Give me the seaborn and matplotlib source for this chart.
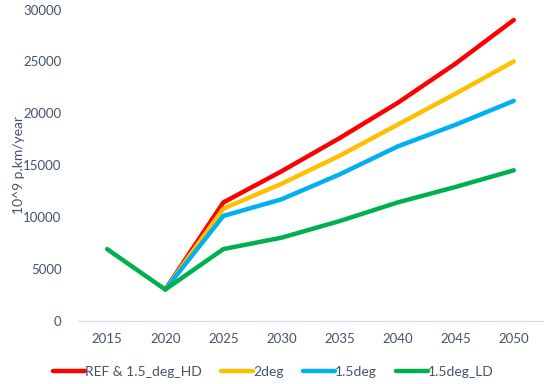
import numpy as np
import pandas as pd
import seaborn as sns
import matplotlib.pyplot as plt

years = [2015, 2020, 2025, 2030, 2035, 2040, 2045, 2050]
ref_hd = [np.nan, 3000, 11400, 14400, 17600, 21000, 24800, 29000]
deg2 = [np.nan, 3000, 10800, 13200, 15900, 18900, 21900, 25000]
deg15 = [np.nan, 3000, 10100, 11700, 14100, 16800, 18900, 21200]
deg15_ld = [6900, 3000, 6900, 8000, 9600, 11400, 12900, 14500]

series_names = ["REF & 1.5_deg_HD", "2deg", "1.5deg", "1.5deg_LD"]
colors = ["#FF0000", "#FFC000", "#00B0F0", "#00B050"]

rows = []
for name, vals in zip(series_names, [ref_hd, deg2, deg15, deg15_ld]):
    for y, v in zip(years, vals):
        rows.append({"year": y, "value": v, "scenario": name})
df = pd.DataFrame(rows).dropna()

sns.set_style("white")
plt.rcParams["font.family"] = ["Lato", "DejaVu Sans"]
text_col = "#44546A"

fig = plt.figure(figsize=(5.5, 3.84), dpi=100)
ax = fig.add_axes([0.142, 0.165, 0.845, 0.81])

sns.lineplot(data=df, x="year", y="value", hue="scenario", hue_order=series_names,
             palette=colors, linewidth=3.2, ax=ax,
             solid_capstyle="round", solid_joinstyle="round")

ax.set_xlim(2012.5, 2052.5)
ax.set_xticks(years)
ax.set_xticks(np.arange(2012.5, 2053, 5), minor=True)
ax.set_ylim(0, 30000)
ax.set_yticks(range(0, 30001, 5000))
ax.set_xlabel("")
ax.set_ylabel("10^9 p.km/year", color=text_col, fontsize=10)
ax.yaxis.set_label_coords(-0.115, 0.5)

for s in ["top", "right", "left"]:
    ax.spines[s].set_visible(False)
ax.spines["bottom"].set_color("#D9DEE6")
ax.spines["bottom"].set_linewidth(1)

ax.tick_params(axis="both", which="major", length=0, labelcolor=text_col, labelsize=9.5)
ax.tick_params(axis="x", pad=9)
ax.tick_params(axis="y", pad=12)
ax.tick_params(axis="x", which="minor", length=5, color="#D9DEE6", width=1)

ax.legend(loc="center", bbox_to_anchor=(0.42, -0.165), ncol=4, frameon=False,
          fontsize=10, handlelength=2.3, handletextpad=0.0, columnspacing=1.4,
          labelcolor=text_col)

fig.savefig("out.png", dpi=100)
